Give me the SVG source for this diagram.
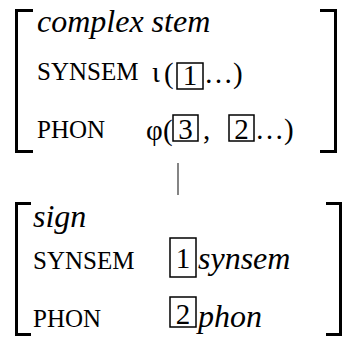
<svg xmlns="http://www.w3.org/2000/svg" width="351" height="339" viewBox="0 0 351 339">
<style>
text{font-family:'Liberation Serif','Times New Roman',Times,serif;fill:#000}
.it{font-style:italic;font-size:32px}
.cap{font-size:25px}
.dg{font-size:29px}
.br{fill:none;stroke:#000;stroke-width:3}
.bx{fill:none;stroke:#000;stroke-width:1.5}
.cn{stroke:#333;stroke-width:1.2}
</style>
<rect width="351" height="339" fill="#fff"/>
<g id="complex-stem">
<path class="br" d="M33,10.5H16.5V151.5H33"/>
<path class="br" d="M320,10.5H335.5V151.5H320"/>
<text class="it" x="37" y="32">complex stem</text>
<text class="cap" x="37" y="80">SYNSEM</text>
<text class="dg" x="152" y="82">ι</text>
<text class="dg" x="164" y="83">(</text>
<rect class="bx" x="177" y="63" width="26" height="26"/>
<text class="dg" x="190" y="85" text-anchor="middle">1</text>
<text class="dg" x="204" y="83">…)</text>
<text class="cap" x="37" y="138">PHON</text>
<text class="dg" x="146" y="140">φ</text>
<text class="dg" x="163" y="140">(</text>
<rect class="bx" x="173" y="115" width="25" height="26"/>
<text class="dg" x="185.5" y="139" text-anchor="middle">3</text>
<text class="dg" x="203" y="139">,</text>
<rect class="bx" x="229" y="115" width="25" height="26"/>
<text class="dg" x="241.5" y="139" text-anchor="middle">2</text>
<text class="dg" x="255" y="139">…)</text>
</g>
<g id="connectors">
<line class="cn" x1="178" y1="163" x2="178" y2="195"/>
</g>
<g id="sign">
<path class="br" d="M31,203.5H16.5V334.5H31"/>
<path class="br" d="M326,203.5H340.5V334.5H326"/>
<text class="it" x="33" y="227">sign</text>
<text class="cap" x="33" y="269">SYNSEM</text>
<rect class="bx" x="170" y="238" width="26" height="39"/>
<text class="dg" x="183" y="268" text-anchor="middle">1</text>
<text class="it" x="198" y="269">synsem</text>
<text class="cap" x="33" y="327">PHON</text>
<rect class="bx" x="170" y="297" width="26" height="30"/>
<text class="dg" x="183" y="324" text-anchor="middle">2</text>
<text class="it" x="198" y="327">phon</text>
</g>
</svg>
